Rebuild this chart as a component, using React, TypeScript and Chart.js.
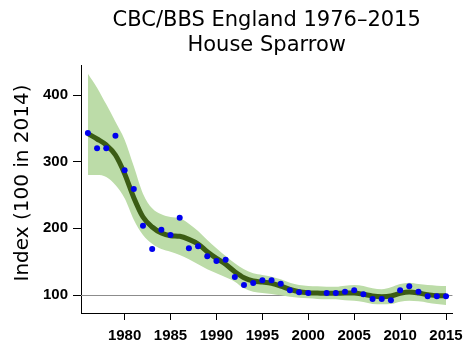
import React, { useEffect, useRef } from "react";
import { Chart, registerables } from "chart.js";

Chart.register(...registerables);

const years = [
  1976, 1977, 1978, 1979, 1980, 1981, 1982, 1983, 1984, 1985,
  1986, 1987, 1988, 1989, 1990, 1991, 1992, 1993, 1994, 1995,
  1996, 1997, 1998, 1999, 2000, 2001, 2002, 2003, 2004, 2005,
  2006, 2007, 2008, 2009, 2010, 2011, 2012, 2013, 2014, 2015,
];

// annual index (blue dots); 2001 missing
const annualIndex: (number | null)[] = [
  343, 320, 320, 339, 287, 259, 204, 169, 198, 190,
  216, 170, 173, 158, 151, 153, 127, 115, 118, 122,
  122, 117, 107, 104, 103, null, 103, 103, 105, 107,
  101, 94, 94, 92, 107, 113, 105, 98, 98, 98,
];

// smoothed trend
const smoothed = [
  342, 334, 325, 310, 282, 246, 217, 202, 193, 189,
  188, 183.5, 176.5, 165, 155, 146, 135, 126, 121, 119.5,
  117.5, 113.5, 108.5, 105, 103.5, 103, 102.5, 102.5, 103, 103,
  101, 98.5, 97.5, 98.5, 102.5, 104.5, 103, 100.5, 99, 99,
];

// confidence band
const upper = [
  432, 411, 386, 360, 333, 293, 252, 230, 221, 217,
  215, 207, 196, 182.5, 170, 158.5, 147.5, 138.5, 132.5, 130,
  127.5, 123.5, 118.5, 115, 113.5, 113, 112.5, 112.5, 114, 115,
  113.5, 110, 108.5, 111.5, 116.5, 118.5, 116.5, 115, 114, 113.5,
];
const lower = [
  280, 280, 277, 265, 245, 213, 190, 177, 169, 165,
  160, 153.5, 146, 138.5, 132.5, 126.5, 120, 110, 105, 103,
  101.5, 99.5, 97.5, 96, 95, 94, 93.5, 93.5, 92, 91.5,
  89.5, 86.5, 86, 86.5, 90, 91.5, 90.5, 88.5, 86.5, 85,
];

const xTicks = [1980, 1985, 1990, 1995, 2000, 2005, 2010, 2015];
const yTicks = [100, 200, 300, 400];
const referenceValue = 100;

const titleLines = ["CBC/BBS England 1976\u20132015", "House Sparrow"];
const yTitle = "Index (100 in 2014)";

const toXY = (vals: (number | null)[]) =>
  years.map((yr, i) => ({ x: yr, y: vals[i] }));

export default function App() {
  const canvasRef = useRef<HTMLCanvasElement | null>(null);

  useEffect(() => {
    const canvas = canvasRef.current;
    if (!canvas) return;

    const refLine = {
      id: "refLine",
      beforeDatasetsDraw(chart: any) {
        const { ctx, chartArea } = chart;
        const y = Math.round(chart.scales.y.getPixelForValue(referenceValue)) + 0.5;
        ctx.save();
        ctx.strokeStyle = "#8c8c8c";
        ctx.lineWidth = 1;
        ctx.beginPath();
        ctx.moveTo(chartArea.left, y);
        ctx.lineTo(chartArea.right, y);
        ctx.stroke();
        ctx.restore();
      },
    };

    const yTitlePlugin = {
      id: "yTitlePlugin",
      afterDraw(chart: any) {
        const { ctx } = chart;
        ctx.save();
        ctx.translate(23, 183);
        ctx.rotate(-Math.PI / 2);
        ctx.font = '20px "DejaVu Sans"';
        ctx.fillStyle = "#000";
        ctx.textAlign = "center";
        ctx.textBaseline = "middle";
        ctx.fillText(yTitle, 0, 0);
        ctx.restore();
      },
    };

    const chart = new Chart(canvas, {
      type: "line",
      data: {
        datasets: [
          {
            label: "Index",
            data: toXY(annualIndex),
            showLine: false,
            pointRadius: 3,
            pointBackgroundColor: "#0000ee",
            pointBorderWidth: 0,
            borderColor: "#0000ee",
          },
          {
            label: "Smoothed",
            data: toXY(smoothed),
            borderColor: "#3b5c14",
            borderWidth: 5,
            pointRadius: 0,
            cubicInterpolationMode: "monotone",
            fill: false,
          },
          {
            label: "Upper",
            data: toXY(upper),
            borderWidth: 0,
            borderColor: "rgba(0,0,0,0)",
            pointRadius: 0,
            cubicInterpolationMode: "monotone",
            backgroundColor: "#bcdca8",
            fill: "+1",
          },
          {
            label: "Lower",
            data: toXY(lower),
            borderWidth: 0,
            borderColor: "rgba(0,0,0,0)",
            pointRadius: 0,
            cubicInterpolationMode: "monotone",
            fill: false,
          },
        ],
      },
      options: {
        animation: false,
        responsive: false,
        maintainAspectRatio: false,
        spanGaps: false,
        layout: { padding: { left: 0, right: 17, top: 0, bottom: 0 } },
        plugins: {
          legend: { display: false },
          tooltip: { enabled: false },
          title: {
            display: true,
            fullSize: false,
            text: titleLines,
            color: "#000",
            font: { family: '"DejaVu Sans"', size: 21, weight: "normal", lineHeight: 25 / 21 },
            padding: { top: 8, bottom: 7 },
          },
        },
        scales: {
          x: {
            type: "linear",
            min: 1975.25,
            max: 2015.7,
            afterFit: (s: any) => {
              s.height = 40;
            },
            afterBuildTicks: (s: any) => {
              s.ticks = xTicks.map((v) => ({ value: v }));
            },
            grid: {
              display: true,
              drawOnChartArea: false,
              drawTicks: true,
              tickLength: 7,
              color: "#000",
            },
            border: { display: true, color: "#000", width: 1 },
            ticks: {
              color: "#000",
              padding: 7,
              maxRotation: 0,
              autoSkip: false,
              font: { family: '"Liberation Sans"', size: 15, weight: "bold" },
              callback: (v: any) => String(v),
            },
          },
          y: {
            type: "linear",
            min: 73,
            max: 445,
            afterFit: (s: any) => {
              s.width = 81;
            },
            afterBuildTicks: (s: any) => {
              s.ticks = yTicks.map((v) => ({ value: v }));
            },
            grid: {
              display: true,
              drawOnChartArea: false,
              drawTicks: true,
              tickLength: 8,
              color: "#000",
            },
            border: { display: true, color: "#000", width: 1 },
            ticks: {
              color: "#000",
              padding: 5,
              autoSkip: false,
              font: { family: '"Liberation Sans"', size: 15, weight: "bold" },
              callback: (v: any) => String(v),
            },
          },
        },
      },
      plugins: [refLine, yTitlePlugin],
    });

    return () => chart.destroy();
  }, []);

  return (
    <div style={{ position: "absolute", left: 0, top: 0, width: 470, height: 353, background: "#fff" }}>
      <canvas ref={canvasRef} width={470} height={353} style={{ display: "block" }} />
    </div>
  );
}
